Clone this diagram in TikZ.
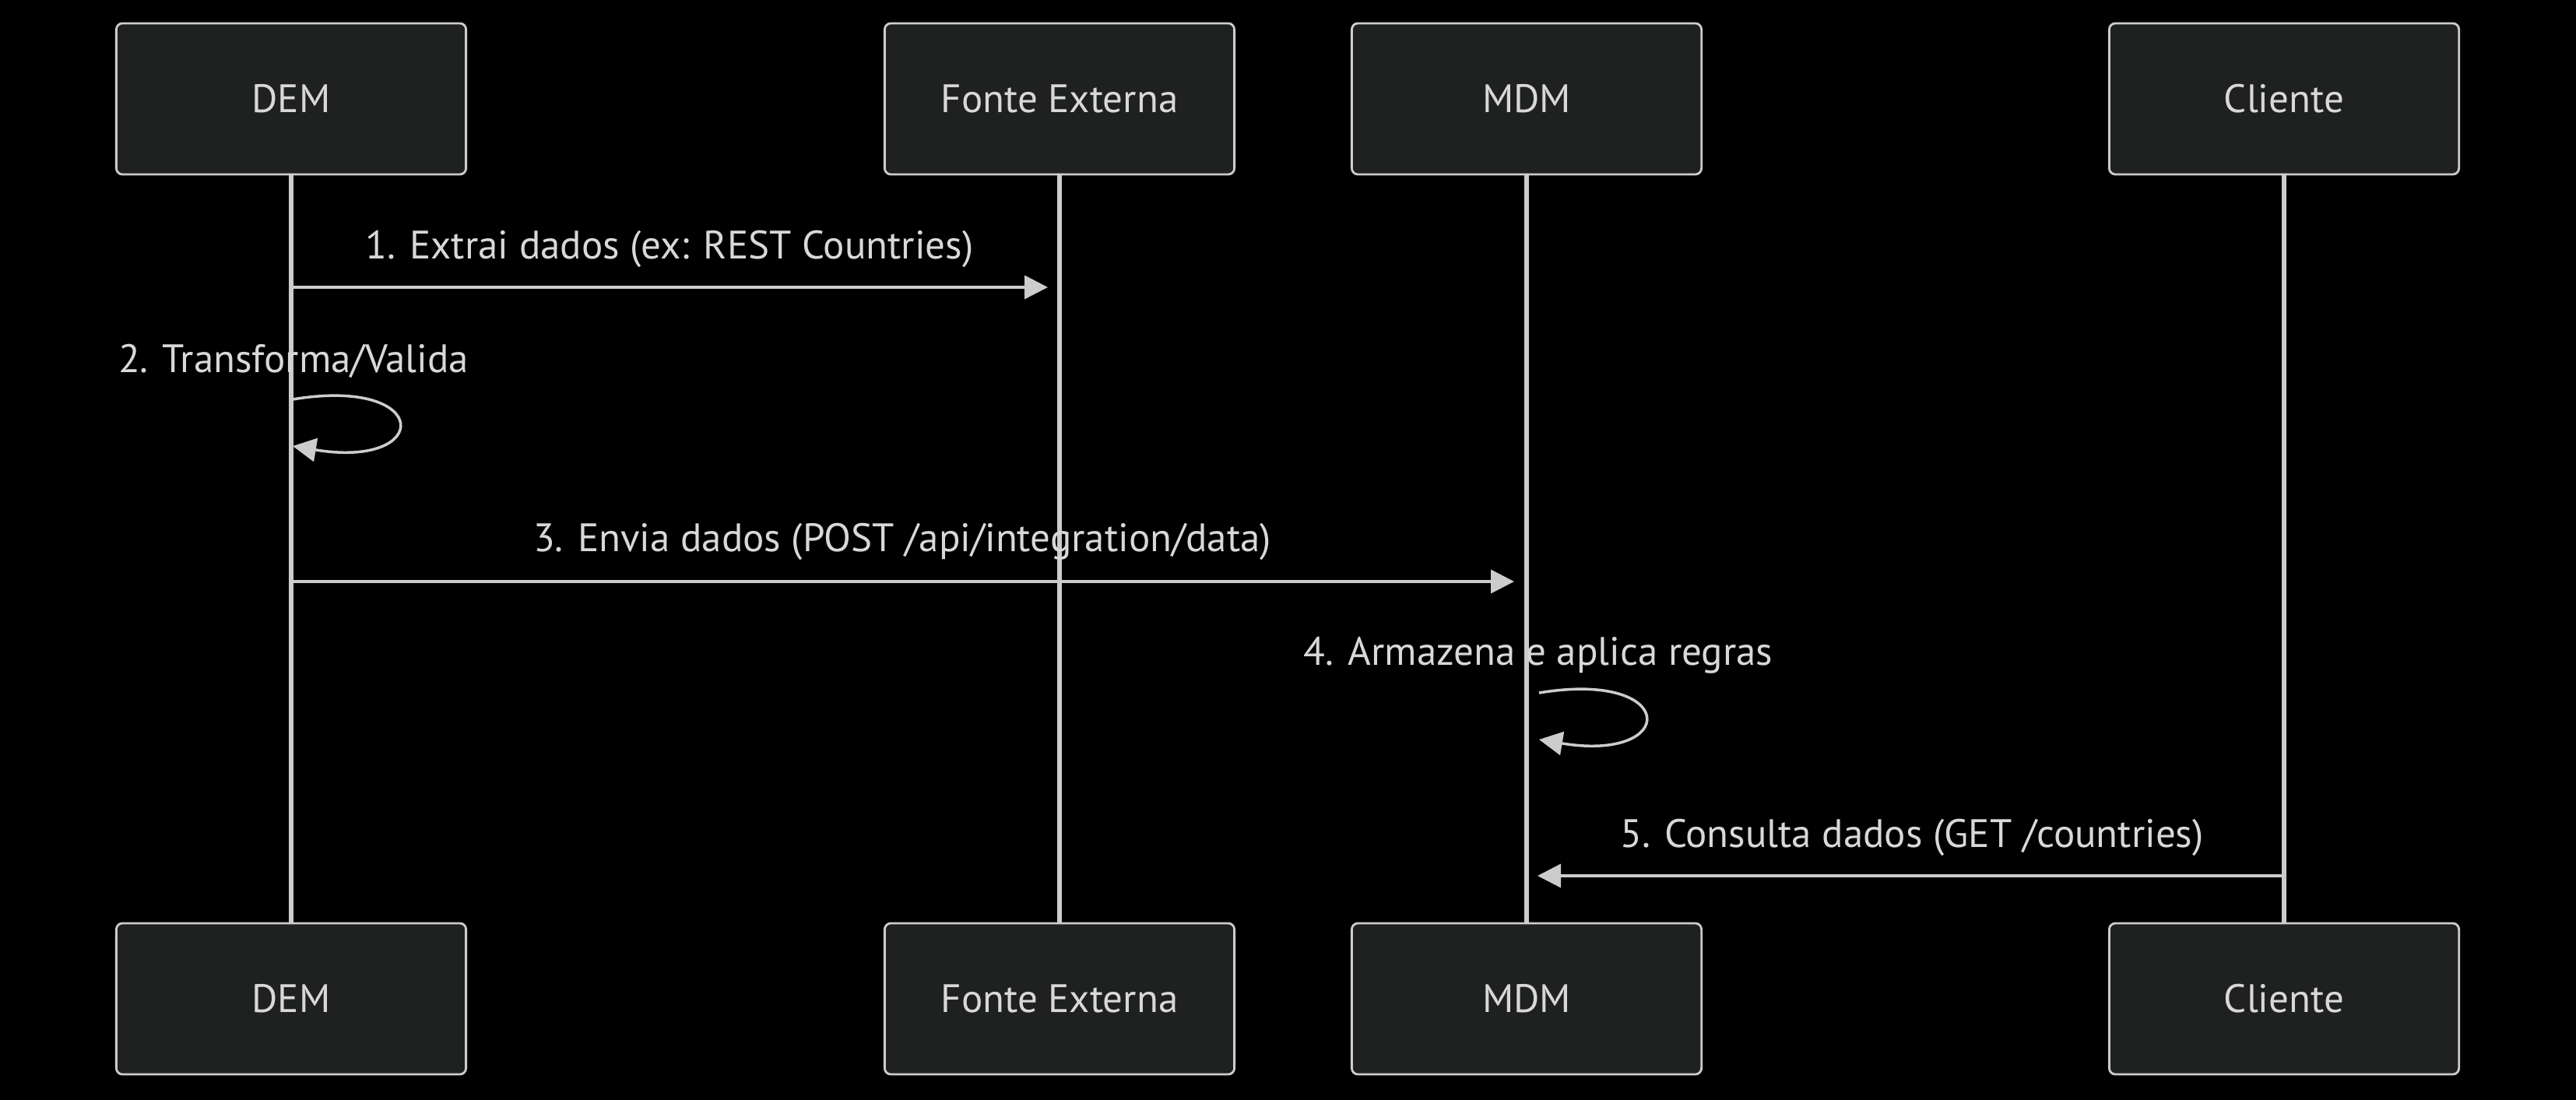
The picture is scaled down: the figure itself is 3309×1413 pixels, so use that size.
\documentclass[tikz,border=0pt]{standalone}
\usepackage{fontspec}
\setmainfont{PT Sans}
\usetikzlibrary{arrows.meta}

\definecolor{boxbg}{HTML}{1F2020}
\definecolor{edge}{HTML}{CCCCCC}
\definecolor{txt}{HTML}{D8D8D8}

\begin{document}
\begin{tikzpicture}[x=0.01cm,y=-0.01cm,
  actor/.style={draw=edge,fill=boxbg,line width=0.8pt,rounded corners=0.08cm,
    minimum width=4.49cm,minimum height=1.94cm,text=txt,font=\fontsize{14.5}{17}\selectfont},
  life/.style={edge,line width=1.5pt},
  msg/.style={edge,line width=1pt,-{Triangle[length=0.3cm,width=0.3cm]}},
  lbl/.style={text=txt,font=\fontsize{14.5}{17}\selectfont,inner sep=0pt}]

\fill[black] (0,0) rectangle (3309,1413);

% actors
\node[actor] (demT) at (374,127) {DEM};
\node[actor] (fonT) at (1361,127) {Fonte Externa};
\node[actor] (mdmT) at (1961,127) {MDM};
\node[actor] (cliT) at (2934,127) {Cliente};

\node[actor] (demB) at (374,1283) {DEM};
\node[actor] (fonB) at (1361,1283) {Fonte Externa};
\node[actor] (mdmB) at (1961,1283) {MDM};
\node[actor] (cliB) at (2934,1283) {Cliente};

% lifelines
\draw[life] (demT.south) -- (demB.north);
\draw[life] (fonT.south) -- (fonB.north);
\draw[life] (mdmT.south) -- (mdmB.north);
\draw[life] (cliT.south) -- (cliB.north);

% 1
\coordinate (m1a) at (374,369);
\coordinate (m1b) at (1346,369);
\draw[msg] (m1a) -- (m1b);
\node[lbl] (t1) at (860,320) {1. Extrai dados (ex: REST Countries)};

% 2
\coordinate (m2a) at (376,513);
\coordinate (m2b) at (376,573);
\draw[msg] (m2a) .. controls (556,483) and (556,603) .. (m2b);
\node[lbl] (t2) at (377,464) {2. Transforma/Valida};

% 3
\coordinate (m3a) at (374,747);
\coordinate (m3b) at (1945,747);
\draw[msg] (m3a) -- (m3b);
\node[lbl] (t3) at (1159,696) {3. Envia dados (POST /api/integration/data)};

% 4
\coordinate (m4a) at (1977,890);
\coordinate (m4b) at (1977,950);
\draw[msg] (m4a) .. controls (2157,860) and (2157,980) .. (m4b);
\node[lbl] (t4) at (1976,842) {4. Armazena e aplica regras};

% 5
\coordinate (m5a) at (2933,1125);
\coordinate (m5b) at (1975,1125);
\draw[msg] (m5a) -- (m5b);
\node[lbl] (t5) at (2456,1076) {5. Consulta dados (GET /countries)};

\end{tikzpicture}
\end{document}
